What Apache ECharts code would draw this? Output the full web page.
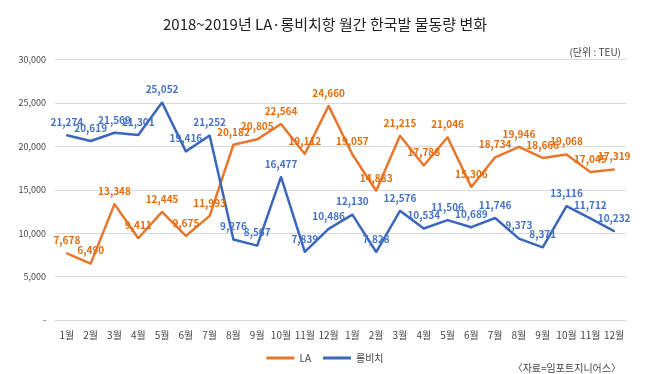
<!DOCTYPE html>
<html><head><meta charset="utf-8">
<script src="https://cdn.jsdelivr.net/npm/echarts@6/dist/echarts.min.js"></script>
<style>html,body{margin:0;padding:0;background:#fff}#c{width:650px;height:374px}</style>
</head><body><div id="c"></div>
<script>
const categories = ['1월','2월','3월','4월','5월','6월','7월','8월','9월','10월','11월','12월','1월','2월','3월','4월','5월','6월','7월','8월','9월','10월','11월','12월'];
const laValues = [7678,6490,13348,9411,12445,9675,11993,20182,20805,22564,19112,24660,19057,14883,21215,17788,21046,15306,18734,19946,18666,19068,17045,17319];
const lbValues = [21274,20619,21569,21301,25052,19416,21252,9276,8567,16477,7839,10486,12130,7828,12576,10534,11506,10689,11746,9373,8371,13116,11712,10232];
const yTicks = [0,5000,10000,15000,20000,25000,30000];
const seriesNames = ['LA','롱비치'];
const titleText = '2018~2019년 LA·롱비치항 월간 한국발 물동량 변화';
const unitText = '(단위 : TEU)';
const sourceText = '〈자료=임포트지니어스〉';

const ORANGE = '#E8772E', BLUE = '#3A67BC';
const FONT = '"Noto Sans CJK KR", "Noto Sans", sans-serif';
const fmt = v => v === 0 ? '-' : v.toLocaleString('en-US');

const chart = echarts.init(document.getElementById('c'), null, {renderer:'canvas'});
chart.setOption({
  animation:false,
  textStyle:{fontFamily:FONT},
  title:[
    {text:titleText,left:'center',top:12,textStyle:{fontSize:15,fontWeight:'normal',color:'#222',fontFamily:FONT}},
    {text:unitText,right:24,top:42,textStyle:{fontSize:10,fontWeight:'normal',color:'#444',fontFamily:FONT}},
    {text:sourceText,right:24,top:358,textStyle:{fontSize:10,fontWeight:'normal',color:'#444',fontFamily:FONT}}
  ],
  legend:{data:seriesNames,left:'center',top:348,itemWidth:28,itemHeight:3,itemGap:12,icon:'rect',
    textStyle:{fontSize:10,color:'#444',fontFamily:FONT}},
  grid:{left:55,right:24,top:59.5,bottom:54,containLabel:false},
  xAxis:{type:'category',data:categories,boundaryGap:true,
    axisLine:{show:true,lineStyle:{color:'#d9d9d9'}},axisTick:{show:false},
    axisLabel:{color:'#444',fontSize:10,margin:10,interval:0,fontFamily:FONT}},
  yAxis:{type:'value',min:yTicks[0],max:yTicks[yTicks.length-1],interval:5000,
    axisLine:{show:false},axisTick:{show:false},
    splitLine:{lineStyle:{color:'#d9d9d9',width:1}},
    axisLabel:{formatter:fmt,color:'#444',fontSize:9,margin:9,fontFamily:FONT}},
  series:[
    {name:seriesNames[0],type:'line',data:laValues,symbol:'circle',symbolSize:2,showSymbol:true,
      lineStyle:{color:ORANGE,width:2.5},itemStyle:{color:ORANGE},
      label:{show:true,position:'top',distance:7,formatter:p=>fmt(p.value),color:'#E46C0A',fontSize:10,fontWeight:'bold',fontFamily:FONT},
      labelLayout:{hideOverlap:false}},
    {name:seriesNames[1],type:'line',data:lbValues,symbol:'circle',symbolSize:2,showSymbol:true,
      lineStyle:{color:BLUE,width:2.5},itemStyle:{color:BLUE},
      label:{show:true,position:'top',distance:7,formatter:p=>fmt(p.value),color:'#4472C4',fontSize:10,fontWeight:'bold',fontFamily:FONT},
      labelLayout:{hideOverlap:false}}
  ]
});
</script></body></html>
